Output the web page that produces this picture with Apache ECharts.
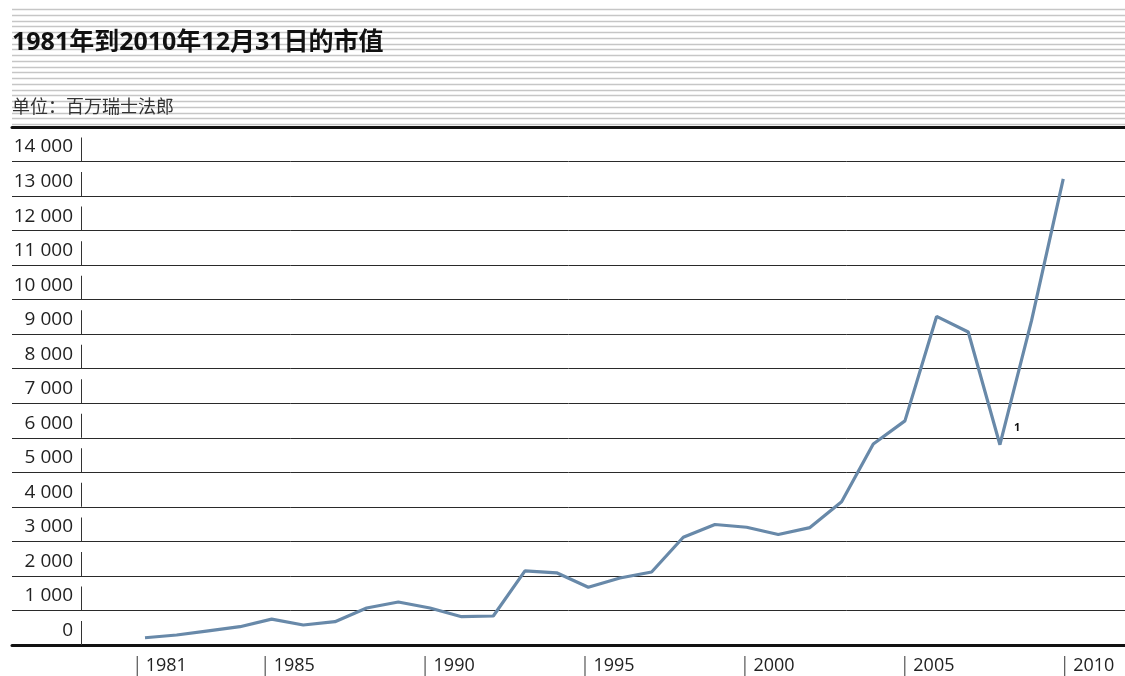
<!DOCTYPE html>
<html>
<head>
<meta charset="utf-8">
<title>市值</title>
<script src="https://cdn.jsdelivr.net/npm/echarts@6/dist/echarts.min.js"></script>
<style>
	html, body { margin: 0; padding: 0; background: #fff; }
	#chart { width: 1125px; height: 676px; }
</style>
</head>
<body>
<div id="chart"></div>
<script>
var years = [1981, 1982, 1983, 1984, 1985, 1986, 1987, 1988, 1989, 1990,
	1991, 1992, 1993, 1994, 1995, 1996, 1997, 1998, 1999, 2000,
	2001, 2002, 2003, 2004, 2005, 2006, 2007, 2008, 2009, 2010];
// 百万瑞士法郎
var marketValue = [210, 290, 410, 530, 750, 580, 675, 1070, 1245, 1070,
	820, 840, 2145, 2090, 1670, 1940, 2115, 3120, 3490, 3410,
	3200, 3400, 4150, 5820, 6490, 9515, 9065, 5800, 9400, 13500];
var yearLabels = [1981, 1985, 1990, 1995, 2000, 2005, 2010];
var noteYear = 2008;

var FONT = "'Open Sans', 'Noto Sans CJK SC', sans-serif";

var dom = document.getElementById("chart");
var myChart = echarts.init(dom);
var option = null;

var seriesData = [];
for (var i = 0; i < years.length; i++) {
	seriesData.push([years[i], marketValue[i]]);
}

// 页眉的条纹
var stripes = [];
for (var k = 0; k < 21; k++) {
	var yy = Math.round(9 + k * 5.75) + 0.5;
	stripes.push({
		type: 'line',
		silent: true,
		shape: { x1: 12, y1: yy, x2: 1125, y2: yy },
		style: { stroke: '#c6c6c6', lineWidth: 1.3 }
	});
}

option = {
	backgroundColor: '#fff',
	animation: false,
	graphic: stripes,
	title: [{
		text: '1981年到2010年12月31日的市值',
		left: 12,
		top: 30,
		padding: 0,
		textStyle: { fontFamily: FONT, fontSize: 25, fontWeight: 'bold', color: '#111' }
	}, {
		text: '单位：百万瑞士法郎',
		left: 12,
		top: 99,
		padding: 0,
		textStyle: { fontFamily: FONT, fontSize: 18, fontWeight: 'normal', color: '#333' }
	}],
	grid: {
		left: 12,
		right: 0,
		top: 127,
		bottom: 31
	},
	xAxis: [{
		// 数据用的轴
		type: 'value',
		min: 1976.8,
		max: 2011.95,
		position: 'bottom',
		splitLine: { show: false },
		axisLine: { show: true, lineStyle: { color: '#111', width: 3 } },
		axisTick: { show: false },
		axisLabel: { show: false }
	}, {
		type: 'value',
		min: 1976.8,
		max: 2011.95,
		position: 'top',
		splitLine: { show: false },
		axisLine: { show: true, lineStyle: { color: '#111', width: 3 } },
		axisTick: { show: false },
		axisLabel: { show: false }
	}, {
		// 年份标签
		type: 'value',
		min: 1977.1,
		max: 2011.9,
		position: 'bottom',
		splitLine: { show: false },
		axisLine: { show: false },
		axisTick: { show: false },
		axisLabel: {
			customValues: yearLabels,
			align: 'left',
			margin: 11,
			formatter: function(v) {
				return '{b|}{s|}{t|' + v + '}';
			},
			rich: {
				b: { width: 1, height: 20, backgroundColor: '#333' },
				s: { width: 8 },
				t: { fontFamily: FONT, fontSize: 18, color: '#222' }
			}
		}
	}],
	yAxis: {
		type: 'value',
		min: 0,
		max: 15000,
		interval: 1000,
		axisLine: { show: false },
		axisTick: { show: false },
		splitLine: { show: true, lineStyle: { color: '#2a2a2a', width: 1 } },
		axisLabel: {
			inside: true,
			margin: 70,
			align: 'right',
			showMaxLabel: false,
			verticalAlign: 'bottom',
			formatter: function(v) {
				if (v >= 15000) return '';
				var s = v >= 1000 ? Math.floor(v / 1000) + ' 000' : String(v);
				return '{v|' + s + '}{s|}{b|}';
			},
			rich: {
				v: { fontFamily: FONT, fontSize: 19, color: '#222', lineHeight: 17, verticalAlign: 'top' },
				s: { width: 8 },
				b: { width: 1, height: 24, backgroundColor: '#333' }
			}
		}
	},
	series: [{
		type: 'line',
		data: seriesData,
		symbol: 'none',
		lineStyle: { color: '#6889a9', width: 3.2 },
		markPoint: {
			symbol: 'circle',
			symbolSize: 0,
			data: [{ coord: [noteYear, marketValue[years.indexOf(noteYear)]] }],
			label: {
				show: true,
				position: 'right',
				formatter: '1',
				offset: [9, -17],
				fontFamily: FONT,
				fontSize: 11,
				fontWeight: 'bold',
				color: '#111'
			}
		}
	}]
};

if (option && typeof option === "object") {
	myChart.setOption(option, true);
}
</script>
</body>
</html>
